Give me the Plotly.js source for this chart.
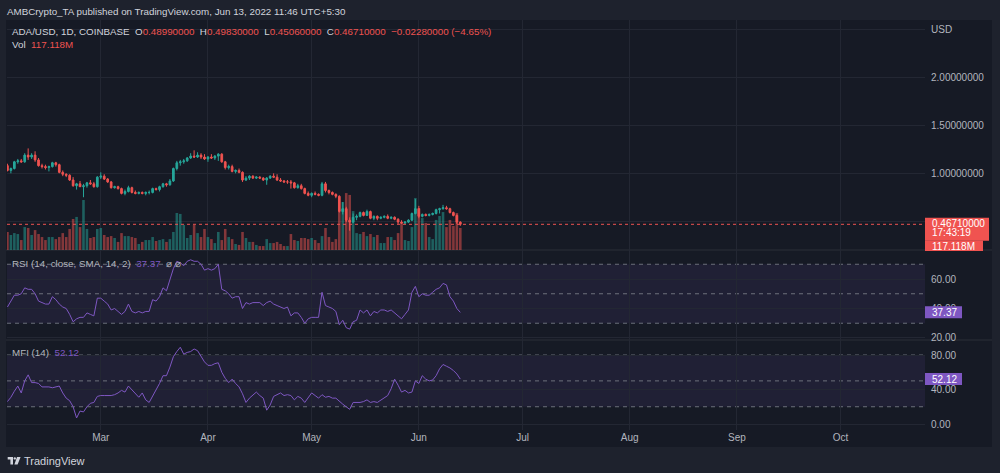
<!DOCTYPE html>
<html><head><meta charset="utf-8">
<script src="https://cdn.plot.ly/plotly-3.0.1.min.js"></script>
<style>html,body{margin:0;padding:0;background:#1e222d;}#chart{width:1000px;height:473px;}</style>
</head><body><div id="chart"></div>
<script>
// ---- data (ADA/USD daily, Coinbase) ----
const startDate = '2022-02-02';
const openP = [1.08,1.03,1.05,1.12,1.13,1.12,1.19,1.17,1.19,1.14,
1.08,1.07,1.06,1.07,1.11,1.09,1.01,0.99,0.98,0.93,
0.87,0.89,0.86,0.87,0.90,0.89,0.86,0.96,0.97,0.94,
0.91,0.85,0.86,0.84,0.79,0.81,0.85,0.80,0.79,0.80,
0.79,0.80,0.80,0.84,0.83,0.86,0.89,0.88,0.92,1.05,
1.11,1.12,1.13,1.16,1.18,1.17,1.19,1.17,1.15,1.17,
1.16,1.18,1.20,1.12,1.06,1.07,1.02,1.03,1.01,0.93,
0.95,0.97,0.95,0.96,0.95,0.93,0.95,0.97,0.96,0.93,
0.92,0.91,0.91,0.90,0.85,0.87,0.84,0.79,0.77,0.79,
0.78,0.77,0.89,0.82,0.80,0.78,0.76,0.60,0.63,0.51,
0.49,0.54,0.55,0.59,0.56,0.60,0.53,0.55,0.53,0.54,
0.55,0.53,0.54,0.52,0.49,0.48,0.49,0.51,0.58,0.63,
0.55,0.57,0.56,0.57,0.58,0.62,0.63,0.64,0.63,0.59,
0.56,0.4899];
const highP = [1.10,1.06,1.13,1.15,1.15,1.21,1.26,1.21,1.23,1.16,
1.10,1.09,1.08,1.12,1.12,1.10,1.03,1.00,0.99,0.96,
0.90,0.92,0.89,0.91,0.93,0.91,0.97,1.01,0.99,0.95,
0.92,0.87,0.87,0.85,0.83,0.87,0.86,0.82,0.81,0.81,
0.81,0.82,0.85,0.85,0.87,0.90,0.90,0.94,1.06,1.13,
1.14,1.15,1.17,1.21,1.24,1.22,1.21,1.20,1.18,1.20,
1.19,1.21,1.21,1.13,1.09,1.09,1.04,1.05,1.02,0.97,
0.98,0.98,0.97,0.97,0.96,0.96,0.98,1.00,0.99,0.95,
0.93,0.93,0.93,0.91,0.89,0.89,0.85,0.81,0.80,0.81,
0.79,0.91,0.91,0.83,0.81,0.79,0.77,0.70,0.65,0.54,
0.58,0.57,0.60,0.60,0.62,0.61,0.56,0.56,0.55,0.56,
0.57,0.55,0.55,0.53,0.51,0.50,0.52,0.59,0.73,0.66,
0.58,0.58,0.58,0.59,0.63,0.64,0.67,0.66,0.64,0.60,
0.57,0.4983];
const lowP = [1.02,1.00,1.04,1.10,1.11,1.11,1.14,1.15,1.12,1.07,
1.05,1.04,1.02,1.06,1.07,1.00,0.97,0.96,0.92,0.86,
0.83,0.86,0.75,0.85,0.88,0.85,0.85,0.94,0.93,0.90,
0.84,0.84,0.83,0.78,0.77,0.80,0.79,0.78,0.78,0.78,
0.77,0.78,0.79,0.82,0.81,0.85,0.86,0.87,0.91,1.03,
1.08,1.10,1.12,1.15,1.16,1.16,1.15,1.14,1.12,1.15,
1.14,1.13,1.11,1.04,1.04,1.01,1.00,1.00,0.91,0.92,
0.93,0.94,0.94,0.94,0.92,0.88,0.94,0.95,0.92,0.91,
0.90,0.89,0.84,0.84,0.84,0.83,0.78,0.76,0.75,0.77,
0.76,0.76,0.80,0.78,0.77,0.74,0.59,0.57,0.49,0.40,
0.48,0.51,0.54,0.55,0.56,0.52,0.51,0.51,0.52,0.53,
0.52,0.52,0.51,0.47,0.47,0.47,0.48,0.50,0.57,0.53,
0.54,0.55,0.55,0.56,0.57,0.58,0.62,0.62,0.58,0.55,
0.47,0.4506];
const closeP = [1.03,1.05,1.12,1.13,1.12,1.19,1.17,1.19,1.14,1.08,
1.07,1.06,1.07,1.11,1.09,1.01,0.99,0.98,0.93,0.87,
0.89,0.86,0.87,0.90,0.89,0.86,0.96,0.97,0.94,0.91,
0.85,0.86,0.84,0.79,0.81,0.85,0.80,0.79,0.80,0.79,
0.80,0.80,0.84,0.83,0.86,0.89,0.88,0.92,1.05,1.11,
1.12,1.13,1.16,1.18,1.17,1.19,1.17,1.15,1.17,1.16,
1.18,1.20,1.12,1.06,1.07,1.02,1.03,1.01,0.93,0.95,
0.97,0.95,0.96,0.95,0.93,0.95,0.97,0.96,0.93,0.92,
0.91,0.91,0.90,0.85,0.87,0.84,0.79,0.77,0.79,0.78,
0.77,0.89,0.82,0.80,0.78,0.76,0.60,0.63,0.51,0.49,
0.54,0.55,0.59,0.56,0.60,0.53,0.55,0.53,0.54,0.55,
0.53,0.54,0.52,0.49,0.48,0.49,0.51,0.58,0.63,0.55,
0.57,0.56,0.57,0.58,0.62,0.63,0.64,0.63,0.59,0.56,
0.4899,0.4671];
const volumeM = [96,80,90,85,53,122,117,80,106,85,
69,53,69,69,58,69,90,69,112,165,
176,122,266,112,64,69,112,117,80,69,
74,64,43,90,74,74,69,64,32,43,
53,53,69,48,53,58,43,58,96,197,
192,133,64,80,133,90,69,112,69,58,
37,96,53,112,69,58,32,27,96,64,
43,43,27,21,21,58,37,37,43,32,
21,21,85,53,48,64,64,58,64,53,
37,74,117,69,43,58,202,255,303,293,
207,90,85,96,74,85,69,80,37,37,
69,69,53,90,144,53,48,122,277,223,
170,144,69,58,160,181,202,122,160,128,
197,117.118];
const rsi = [41,45,49,49,50,54,53,53,50,45,
44,43,43,48,46,43,41,40,36,31,
33,34,34,37,36,35,47,47,45,43,
39,40,38,36,38,43,38,37,38,37,
38,38,46,45,48,54,52,59,67,72,
71,69,72,73,72,72,70,66,67,66,
67,70,53,52,50,47,48,48,40,44,
43,44,44,44,42,44,45,43,42,41,
40,41,35,37,37,34,30,33,34,34,
34,51,42,41,40,38,29,32,27,26,
31,32,39,37,39,35,38,37,39,39,
38,39,37,35,33,36,39,51,55,48,
50,49,49,51,53,54,57,56,48,45,
40,37.37];
const mfi = [26,31,38,44,36,50,57,48,48,47,
43,43,43,42,43,44,36,30,27,20,
7,15,14,20,24,25,32,33,33,33,
33,34,36,39,37,44,40,35,31,36,
28,25,32,39,47,56,56,66,78,84,
89,81,83,84,87,85,78,72,68,68,
70,71,60,53,48,52,47,43,35,25,
30,34,37,33,30,16,22,32,34,36,
33,34,33,28,32,30,25,30,36,33,
30,34,31,32,30,30,26,23,20,17,
25,25,25,26,28,25,26,25,28,30,
33,41,52,45,37,39,36,37,50,47,
56,52,50,51,56,64,69,67,65,62,
58,52.12];
const monthTickFormat = '%b';
const priceTicks = [0.5, 1, 1.5, 2, 2.5];
const priceTickText = ['', '1.00000000', '1.50000000', '2.00000000', 'USD'];
const rsiTicks = [20, 40, 60];
const rsiTickText = ['20.00', '40.00', '60.00'];
const mfiTicks = [0, 40, 80];
const mfiTickText = ['0.00', '40.00', '80.00'];
const headerText = 'AMBCrypto_TA published on TradingView.com, Jun 13, 2022 11:46 UTC+5:30';
const symbolText = 'ADA/USD, 1D, COINBASE';
const countdownText = '17:43:19';

// ---- build ----
const dates = [];
{ const d0 = new Date(startDate + 'T00:00:00Z');
  for (let i = 0; i < closeP.length; i++) dates.push(new Date(d0.getTime() + i*86400000).toISOString().slice(0,10)); }
const n = closeP.length;
const W = 1000, H = 473;
const px = x => x / W, py = y => 1 - y / H;
const UP = '#26a69a', DN = '#ef5350', PURPLE = '#7e57c2', BOXRED = '#f05350';
const GRID = '#232733', TXT = '#b2b5be', TXT2 = '#d1d4dc';
const FONT = 'Liberation Sans, Arial, sans-serif';
const NB = '\u00a0';
const GAP = NB + ' ';

const volColors = closeP.map((c, i) => c >= openP[i] ? 'rgba(38,166,154,0.5)' : 'rgba(239,83,80,0.5)');

const traces = [
  { type: 'bar', x: dates, y: volumeM, xaxis: 'x', yaxis: 'y', marker: { color: volColors, line: { width: 0 } }, hoverinfo: 'skip' },
  { type: 'candlestick', x: dates, open: openP, high: highP, low: lowP, close: closeP, xaxis: 'x', yaxis: 'y2',
    increasing: { line: { color: UP, width: 1 }, fillcolor: UP },
    decreasing: { line: { color: DN, width: 1 }, fillcolor: DN }, hoverinfo: 'skip' },
  { type: 'scatter', mode: 'lines', x: dates, y: rsi, xaxis: 'x', yaxis: 'y3', line: { color: PURPLE, width: 1 }, hoverinfo: 'skip' },
  { type: 'scatter', mode: 'lines', x: dates, y: mfi, xaxis: 'x', yaxis: 'y4', line: { color: PURPLE, width: 1 }, hoverinfo: 'skip' }
];

const lastO = openP[n-1], lastH = highP[n-1], lastL = lowP[n-1], lastC = closeP[n-1];
const chg = lastC - closeP[n-2];
const pct = chg / closeP[n-2] * 100;
const fmt8 = v => v.toFixed(8);
const sgn = v => (v < 0 ? '\u2212' : '+') + Math.abs(v).toFixed(8);
const red = s => '<span style="color:' + DN + '">' + s + '</span>';
const pur = s => '<span style="color:' + PURPLE + '">' + s + '</span>';
const volText = volumeM[n-1].toFixed(3) + 'M';

const legend1 = symbolText + GAP + 'O' + red(fmt8(lastO)) + GAP + 'H' + red(fmt8(lastH)) + GAP + 'L' + red(fmt8(lastL)) +
  GAP + 'C' + red(fmt8(lastC)) + GAP + red(sgn(chg) + ' (' + (pct < 0 ? '\u2212' : '+') + Math.abs(pct).toFixed(2) + '%)');
const legend2 = 'Vol' + GAP + red(volText);
const rsiLegend = 'RSI (14, close, SMA, 14, 2)' + GAP + pur(rsi[n-1].toFixed(2)) + GAP + '\u2300' + NB + '\u2300';
const mfiLegend = 'MFI (14)' + GAP + pur(mfi[n-1].toFixed(2));

const plotL = 0.007, plotR = 0.925;
const dash = '4px,4px';
const hline = (yref, v) => ({ type: 'line', xref: 'paper', x0: plotL, x1: plotR, yref: yref, y0: v, y1: v,
  line: { color: 'rgba(134,137,147,0.75)', width: 1, dash: dash }, layer: 'between' });
const valueBox = (yref, v, x1px, up, down, color) => ({ type: 'rect', xref: 'paper', x0: plotR, x1: px(x1px),
  yref: yref, ysizemode: 'pixel', yanchor: v, y0: -down, y1: up, fillcolor: color, line: { width: 0 }, layer: 'above' });

const P = (x, y) => px(x).toFixed(5) + ',' + py(y).toFixed(5);
const logoPath = 'M' + P(7.7,457) + ' L' + P(13,457) + ' L' + P(13,464.5) + ' L' + P(10.4,464.5) + ' L' + P(10.4,459.6) + ' L' + P(7.7,459.6) + ' Z ' +
  'M' + P(17,457) + ' L' + P(20.6,457) + ' L' + P(17.6,464.5) + ' L' + P(14.4,464.5) + ' Z';

const shapes = [
  { type: 'rect', xref: 'paper', yref: 'paper', x0: px(6), x1: px(992), y0: py(447), y1: py(20), fillcolor: '#161a25', line: { width: 0 }, layer: 'below' },
  { type: 'rect', xref: 'paper', yref: 'y3', x0: plotL, x1: plotR, y0: 30, y1: 70, fillcolor: 'rgba(126,87,194,0.1)', line: { width: 0 }, layer: 'below' },
  { type: 'rect', xref: 'paper', yref: 'y4', x0: plotL, x1: plotR, y0: 20, y1: 80, fillcolor: 'rgba(126,87,194,0.1)', line: { width: 0 }, layer: 'below' },
  hline('y3', 70), hline('y3', 50), hline('y3', 30),
  hline('y4', 80), hline('y4', 50), hline('y4', 20),
  { type: 'line', xref: 'paper', yref: 'paper', x0: px(6), x1: px(992), y0: py(250), y1: py(250), line: { color: '#2a2e39', width: 1 }, layer: 'below' },
  { type: 'line', xref: 'paper', yref: 'paper', x0: px(6), x1: px(992), y0: py(340), y1: py(340), line: { color: '#2a2e39', width: 1 }, layer: 'below' },
  { type: 'line', xref: 'paper', yref: 'y2', x0: plotL, x1: plotR, y0: lastC, y1: lastC, line: { color: DN, width: 1, dash: 'dot' }, layer: 'above' },
  valueBox('y2', lastC, 989, 6.5, 16.5, BOXRED),
  { type: 'rect', xref: 'paper', yref: 'paper', x0: plotR, x1: px(983), y0: py(251), y1: py(240.5), fillcolor: BOXRED, line: { width: 0 }, layer: 'above' },
  valueBox('y3', rsi[n-1], 962, 6, 6, PURPLE),
  valueBox('y4', mfi[n-1], 962, 6, 6, PURPLE),
  { type: 'path', xref: 'paper', yref: 'paper', path: logoPath, fillcolor: TXT2, line: { width: 0 }, layer: 'above' },
  { type: 'circle', xref: 'paper', yref: 'paper', x0: px(13.6), x1: px(16.0), y0: py(459.6), y1: py(457.2), fillcolor: TXT2, line: { width: 0 }, layer: 'above' }
];

const ann = (o) => Object.assign({ showarrow: false, xref: 'paper', yref: 'paper', xanchor: 'left', yanchor: 'middle', borderpad: 0,
  font: { family: FONT, size: 10, color: TXT2 } }, o);
const white = { family: FONT, size: 10, color: '#ffffff' };
const annotations = [
  ann({ x: px(6), y: py(12), text: headerText, font: { family: FONT, size: 9.8, color: TXT2 } }),
  ann({ x: px(11), y: py(32), text: legend1, font: { family: FONT, size: 9.8, color: TXT2 } }),
  ann({ x: px(11), y: py(45), text: legend2, font: { family: FONT, size: 9.8, color: TXT2 } }),
  ann({ x: px(11), y: py(263), text: rsiLegend, font: { family: FONT, size: 9.8, color: TXT } }),
  ann({ x: px(11), y: py(352), text: mfiLegend, font: { family: FONT, size: 9.8, color: TXT } }),
  ann({ x: px(931), yref: 'y2', y: lastC, yshift: 1, text: fmt8(lastC), font: white }),
  ann({ x: px(931), yref: 'y2', y: lastC, yshift: -8, text: countdownText, font: white }),
  ann({ x: px(931), y: py(246.5), text: volText, font: white }),
  ann({ x: px(931), yref: 'y3', y: rsi[n-1], text: rsi[n-1].toFixed(2), font: white }),
  ann({ x: px(931), yref: 'y4', y: mfi[n-1], text: mfi[n-1].toFixed(2), font: white }),
  ann({ x: px(23), y: py(461), text: 'TradingView', font: { family: FONT, size: 11, color: TXT2 } })
];

const yCommon = { side: 'right', anchor: 'x', showgrid: true, gridcolor: GRID, gridwidth: 1, zeroline: false, showline: false,
  ticks: '', tickmode: 'array', ticklabelstandoff: 5, tickfont: { family: FONT, size: 10, color: TXT }, fixedrange: true };

const layout = {
  width: W, height: H, margin: { l: 0, r: 0, t: 0, b: 0 },
  paper_bgcolor: '#1e222d', plot_bgcolor: 'rgba(0,0,0,0)',
  showlegend: false, bargap: 0.25, dragmode: false, hovermode: false,
  xaxis: { type: 'date', domain: [plotL, plotR], anchor: 'y4', range: ['2022-02-01 21:00', '2022-10-25 10:00'],
    rangeslider: { visible: false }, showgrid: true, gridcolor: GRID, zeroline: false, showline: false, ticks: '',
    tickformat: monthTickFormat, dtick: 'M1', tick0: '2022-01-01', tickfont: { family: FONT, size: 10, color: TXT }, fixedrange: true },
  yaxis: { domain: [py(250), py(20)], range: [0, 1224], visible: false, showgrid: false, fixedrange: true, anchor: 'x' },
  yaxis2: Object.assign({}, yCommon, { overlaying: 'y', range: [0.1985, 2.602], tickvals: priceTicks, ticktext: priceTickText }),
  yaxis3: Object.assign({}, yCommon, { domain: [py(340), py(250)], range: [18.64, 79.66], tickvals: rsiTicks, ticktext: rsiTickText }),
  yaxis4: Object.assign({}, yCommon, { domain: [py(430), py(340)], range: [-6.96, 97.4], tickvals: mfiTicks, ticktext: mfiTickText }),
  shapes: shapes, annotations: annotations
};

Plotly.newPlot('chart', traces, layout, { staticPlot: true, displayModeBar: false });
</script></body></html>
